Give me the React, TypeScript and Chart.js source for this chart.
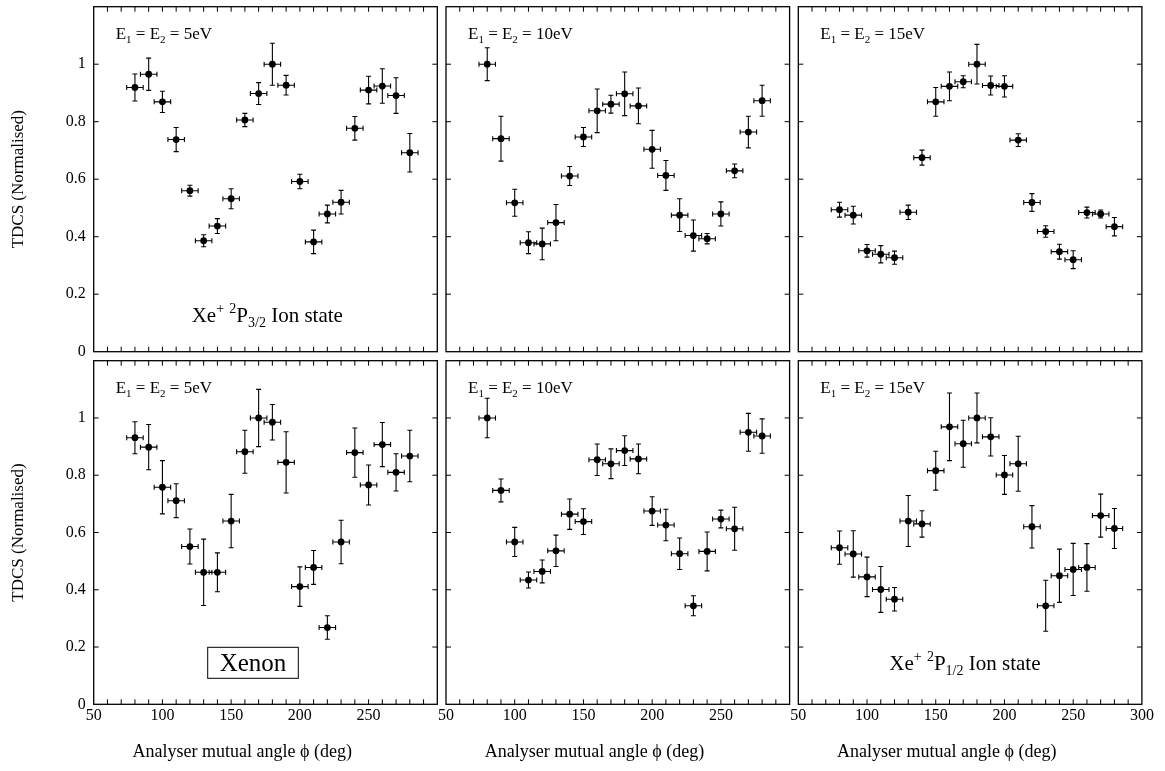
import React, { useEffect, useRef } from 'react';
import { Chart, registerables } from 'chart.js';
Chart.register(...registerables);

// ---------- data ----------
const angles = [80, 90, 100, 110, 120, 130, 140, 150, 160, 170, 180, 190, 200, 210, 220, 230, 240, 250, 260, 270, 280];
const angleErr = 6;

const xTickLabels = [50, 100, 150, 200, 250, 300];
const yTickLabels = [0, 0.2, 0.4, 0.6, 0.8, 1];

// Xe+ 2P3/2 ion state
const p32_5eV = [0.919, 0.965, 0.869, 0.738, 0.560, 0.386, 0.437, 0.532, 0.806, 0.898, 1.0, 0.927, 0.592, 0.382, 0.479, 0.520, 0.777, 0.910, 0.924, 0.891, 0.692];
const p32_5eV_err = [0.047, 0.056, 0.037, 0.042, 0.019, 0.021, 0.026, 0.035, 0.023, 0.038, 0.073, 0.034, 0.025, 0.041, 0.031, 0.041, 0.041, 0.048, 0.060, 0.062, 0.067];
const p32_10eV = [1.0, 0.741, 0.518, 0.379, 0.375, 0.449, 0.611, 0.747, 0.838, 0.861, 0.897, 0.855, 0.704, 0.613, 0.475, 0.404, 0.393, 0.479, 0.629, 0.764, 0.873];
const p32_10eV_err = [0.057, 0.078, 0.047, 0.038, 0.055, 0.063, 0.033, 0.033, 0.076, 0.031, 0.076, 0.062, 0.066, 0.052, 0.057, 0.054, 0.018, 0.042, 0.024, 0.055, 0.054];
const p32_15eV = [0.494, 0.475, 0.351, 0.339, 0.327, 0.485, 0.675, 0.869, 0.923, 0.939, 1.0, 0.926, 0.923, 0.736, 0.519, 0.418, 0.348, 0.320, 0.484, 0.479, 0.435];
const p32_15eV_err = [0.026, 0.031, 0.022, 0.030, 0.023, 0.025, 0.026, 0.050, 0.050, 0.021, 0.069, 0.033, 0.037, 0.022, 0.031, 0.020, 0.026, 0.031, 0.019, 0.014, 0.032];

// Xe+ 2P1/2 ion state
const p12_5eV = [0.931, 0.898, 0.758, 0.711, 0.551, 0.461, 0.461, 0.640, 0.882, 1.0, 0.985, 0.845, 0.411, 0.478, 0.268, 0.567, 0.879, 0.766, 0.907, 0.810, 0.867];
const p12_5eV_err = [0.056, 0.079, 0.093, 0.059, 0.061, 0.116, 0.068, 0.093, 0.075, 0.100, 0.062, 0.107, 0.069, 0.059, 0.041, 0.076, 0.086, 0.070, 0.077, 0.065, 0.090];
const p12_10eV = [1.0, 0.747, 0.567, 0.434, 0.464, 0.536, 0.664, 0.638, 0.854, 0.840, 0.886, 0.857, 0.675, 0.626, 0.526, 0.344, 0.534, 0.647, 0.613, 0.950, 0.937];
const p12_10eV_err = [0.069, 0.040, 0.051, 0.028, 0.040, 0.055, 0.053, 0.045, 0.055, 0.052, 0.052, 0.052, 0.050, 0.055, 0.055, 0.035, 0.068, 0.031, 0.075, 0.066, 0.060];
const p12_15eV = [0.547, 0.525, 0.445, 0.401, 0.367, 0.640, 0.630, 0.816, 0.969, 0.910, 1.0, 0.934, 0.801, 0.840, 0.620, 0.344, 0.449, 0.471, 0.478, 0.659, 0.614];
const p12_15eV_err = [0.058, 0.081, 0.069, 0.080, 0.041, 0.089, 0.046, 0.068, 0.118, 0.082, 0.087, 0.067, 0.068, 0.096, 0.074, 0.089, 0.093, 0.091, 0.083, 0.075, 0.070];

const energies = ['5', '10', '15'];
const yTitle = 'TDCS (Normalised)';
const xTitle = 'Analyser mutual angle \u03D5 (deg)';

// ---------- layout ----------
const W = 1165;
const H = 771;
const colLeft = [93.7, 446, 798.3];
const panelW = 343.6;
const rowTop = [6.7, 360.7];
const rowBottom = [351.7, 704.3];
const FONT = '"Liberation Serif", "DejaVu Serif", "Times New Roman", serif';

type Seg = { t: string; size: number; dy?: number };

function drawRich(ctx: CanvasRenderingContext2D, x: number, y: number, segs: Seg[]) {
  let cx = x;
  for (const s of segs) {
    ctx.font = `${s.size}px ${FONT}`;
    ctx.fillText(s.t, cx, y + (s.dy || 0));
    cx += ctx.measureText(s.t).width;
  }
}

function energySegs(e: string): Seg[] {
  return [
    { t: 'E', size: 17 },
    { t: '1', size: 11, dy: 4 },
    { t: ' = E', size: 17 },
    { t: '2', size: 11, dy: 4 },
    { t: ' = ' + e + 'eV', size: 17 },
  ];
}

function ionSegs(sub: string): Seg[] {
  return [
    { t: 'Xe', size: 21 },
    { t: '+', size: 14, dy: -9 },
    { t: ' ', size: 21 },
    { t: '2', size: 14, dy: -9 },
    { t: 'P', size: 21 },
    { t: sub, size: 14, dy: 5 },
    { t: ' Ion state', size: 21 },
  ];
}

type PanelDef = { row: number; col: number; values: number[]; errs: number[] };

const panels: PanelDef[] = [
  { row: 0, col: 0, values: p32_5eV, errs: p32_5eV_err },
  { row: 0, col: 1, values: p32_10eV, errs: p32_10eV_err },
  { row: 0, col: 2, values: p32_15eV, errs: p32_15eV_err },
  { row: 1, col: 0, values: p12_5eV, errs: p12_5eV_err },
  { row: 1, col: 1, values: p12_10eV, errs: p12_10eV_err },
  { row: 1, col: 2, values: p12_15eV, errs: p12_15eV_err },
];

function Panel({ def }: { def: PanelDef }) {
  const ref = useRef<HTMLCanvasElement | null>(null);
  useEffect(() => {
    if (!ref.current) return;
    const { row, col, values, errs } = def;
    const left = colLeft[col];
    const right = left + panelW;
    const top = rowTop[row];
    const bottom = rowBottom[row];

    const decor = {
      id: 'decor' + row + col,
      beforeDatasetsDraw(chart: any) {
        const { ctx } = chart;
        const x = chart.scales.x;
        const y = chart.scales.y;
        ctx.save();
        ctx.strokeStyle = '#000';
        ctx.lineWidth = 1.1;
        angles.forEach((a, i) => {
          const v = values[i];
          const px = x.getPixelForValue(a);
          const py = y.getPixelForValue(v);
          const yt = y.getPixelForValue(v + errs[i]);
          const yb = y.getPixelForValue(v - errs[i]);
          const xl = x.getPixelForValue(a - angleErr);
          const xr = x.getPixelForValue(a + angleErr);
          const c = 2.5;
          ctx.beginPath();
          ctx.moveTo(px, yt); ctx.lineTo(px, yb);
          ctx.moveTo(px - c, yt); ctx.lineTo(px + c, yt);
          ctx.moveTo(px - c, yb); ctx.lineTo(px + c, yb);
          ctx.moveTo(xl, py); ctx.lineTo(xr, py);
          ctx.moveTo(xl, py - c); ctx.lineTo(xl, py + c);
          ctx.moveTo(xr, py - c); ctx.lineTo(xr, py + c);
          ctx.stroke();
        });
        ctx.restore();
      },
      afterDraw(chart: any) {
        const { ctx, chartArea: ca } = chart;
        const x = chart.scales.x;
        const y = chart.scales.y;
        ctx.save();
        ctx.strokeStyle = '#000';
        ctx.lineWidth = 1.3;
        ctx.strokeRect(ca.left, ca.top, ca.right - ca.left, ca.bottom - ca.top);
        // inward ticks
        ctx.lineWidth = 1;
        const tl = 5;
        ctx.beginPath();
        for (let a = 60; a < 300; a += 10) {
          const px = x.getPixelForValue(a);
          ctx.moveTo(px, ca.bottom); ctx.lineTo(px, ca.bottom - tl);
          ctx.moveTo(px, ca.top); ctx.lineTo(px, ca.top + tl);
        }
        yTickLabels.forEach((v) => {
          if (v <= 0) return;
          const py = y.getPixelForValue(v);
          ctx.moveTo(ca.left, py); ctx.lineTo(ca.left + tl, py);
          ctx.moveTo(ca.right, py); ctx.lineTo(ca.right - tl, py);
        });
        ctx.stroke();

        // annotations
        ctx.fillStyle = '#000';
        ctx.textAlign = 'left';
        ctx.textBaseline = 'alphabetic';
        drawRich(ctx, ca.left + 22, ca.top + 32.5, energySegs(energies[col]));
        if (row === 0 && col === 0) {
          drawRich(ctx, ca.left + 98, ca.top + 315, ionSegs('3/2'));
        }
        if (row === 1 && col === 2) {
          drawRich(ctx, ca.left + 91, ca.top + 309.5, ionSegs('1/2'));
        }
        if (row === 1 && col === 0) {
          ctx.lineWidth = 1;
          ctx.strokeRect(ca.left + 114, ca.top + 286.6, 90.6, 31);
          ctx.font = `25px ${FONT}`;
          ctx.textAlign = 'center';
          ctx.fillText('Xenon', ca.left + 159.3, ca.top + 310);
        }
        if (row === 1) {
          ctx.font = `18px ${FONT}`;
          ctx.textAlign = 'center';
          ctx.textBaseline = 'middle';
          ctx.fillText(xTitle, ca.left + 148.5, 752);
        }
        ctx.restore();
      },
    };

    const chart = new Chart(ref.current, {
      type: 'scatter',
      data: {
        datasets: [
          {
            data: angles.map((a, i) => ({ x: a, y: values[i] })),
            pointRadius: 3.4,
            pointBackgroundColor: '#000',
            pointBorderColor: '#000',
            pointBorderWidth: 0,
            showLine: false,
          },
        ],
      },
      options: {
        responsive: false,
        animation: false,
        events: [],
        plugins: { legend: { display: false }, tooltip: { enabled: false } },
        layout: {
          padding: {
            left: col === 0 ? 0 : left,
            right: W - right,
            top: top,
            bottom: row === 1 ? 0 : H - bottom,
          },
        },
        scales: {
          x: {
            type: 'linear',
            position: 'bottom',
            min: 50,
            max: 300,
            grid: { display: false, drawTicks: false },
            border: { display: false },
            afterBuildTicks: (s: any) => {
              s.ticks = xTickLabels.map((v) => ({ value: v }));
            },
            ticks: {
              display: row === 1,
              padding: 2,
              color: '#000',
              autoSkip: false,
              maxRotation: 0,
              font: { family: FONT, size: 16 },
              callback: (v: any) => (v === 300 && col < 2 ? '' : String(v)),
            },
            afterFit: (s: any) => {
              s.height = row === 1 ? H - bottom : 0;
              s.paddingLeft = 0;
              s.paddingRight = 0;
            },
          },
          y: {
            type: 'linear',
            min: 0,
            max: 1.2,
            grid: { display: false, drawTicks: false },
            border: { display: false },
            afterBuildTicks: (s: any) => {
              s.ticks = yTickLabels.map((v) => ({ value: v }));
            },
            ticks: {
              display: col === 0,
              padding: 8,
              color: '#000',
              font: { family: FONT, size: 16 },
              callback: (v: any) => String(Math.round(v * 10) / 10),
            },
            title: {
              display: col === 0,
              text: yTitle,
              color: '#000',
              font: { family: FONT, size: 17 },
              padding: { top: 8, bottom: 0 },
            },
            afterFit: (s: any) => {
              s.width = col === 0 ? left : 0;
              s.paddingTop = 0;
              s.paddingBottom = 0;
            },
          },
        },
      },
      plugins: [decor],
    } as any);
    return () => chart.destroy();
  }, [def]);

  return (
    <canvas
      ref={ref}
      width={W}
      height={H}
      style={{ position: 'absolute', left: 0, top: 0, width: W, height: H }}
    />
  );
}

export default function App() {
  return (
    <div style={{ position: 'absolute', left: 0, top: 0, width: W, height: H, background: '#fff' }}>
      {panels.map((p) => (
        <Panel key={`${p.row}-${p.col}`} def={p} />
      ))}
    </div>
  );
}
